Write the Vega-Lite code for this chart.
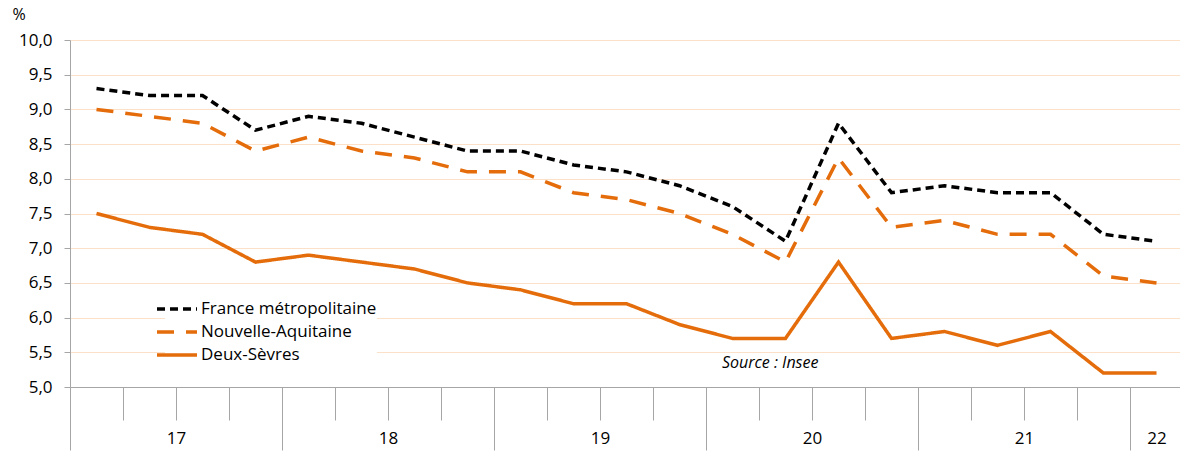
{
  "$schema": "https://vega.github.io/schema/vega-lite/v6.json",
  "autosize": {"type": "none"},
  "padding": {"left": 70, "top": 40, "right": 0, "bottom": 64},
  "width": 1113,
  "height": 347,
  "background": "white",
  "config": {
    "font": "Open Sans",
    "view": {"stroke": null}
  },
  "resolve": {"scale": {"x": "shared", "y": "shared"}, "axis": {"x": "independent", "y": "independent"}},
  "datasets": {
    "taux": [
      {"i": 0, "trimestre": "2017-T1", "serie": "France métropolitaine", "taux": 9.3},
      {"i": 1, "trimestre": "2017-T2", "serie": "France métropolitaine", "taux": 9.2},
      {"i": 2, "trimestre": "2017-T3", "serie": "France métropolitaine", "taux": 9.2},
      {"i": 3, "trimestre": "2017-T4", "serie": "France métropolitaine", "taux": 8.7},
      {"i": 4, "trimestre": "2018-T1", "serie": "France métropolitaine", "taux": 8.9},
      {"i": 5, "trimestre": "2018-T2", "serie": "France métropolitaine", "taux": 8.8},
      {"i": 6, "trimestre": "2018-T3", "serie": "France métropolitaine", "taux": 8.6},
      {"i": 7, "trimestre": "2018-T4", "serie": "France métropolitaine", "taux": 8.4},
      {"i": 8, "trimestre": "2019-T1", "serie": "France métropolitaine", "taux": 8.4},
      {"i": 9, "trimestre": "2019-T2", "serie": "France métropolitaine", "taux": 8.2},
      {"i": 10, "trimestre": "2019-T3", "serie": "France métropolitaine", "taux": 8.1},
      {"i": 11, "trimestre": "2019-T4", "serie": "France métropolitaine", "taux": 7.9},
      {"i": 12, "trimestre": "2020-T1", "serie": "France métropolitaine", "taux": 7.6},
      {"i": 13, "trimestre": "2020-T2", "serie": "France métropolitaine", "taux": 7.1},
      {"i": 14, "trimestre": "2020-T3", "serie": "France métropolitaine", "taux": 8.8},
      {"i": 15, "trimestre": "2020-T4", "serie": "France métropolitaine", "taux": 7.8},
      {"i": 16, "trimestre": "2021-T1", "serie": "France métropolitaine", "taux": 7.9},
      {"i": 17, "trimestre": "2021-T2", "serie": "France métropolitaine", "taux": 7.8},
      {"i": 18, "trimestre": "2021-T3", "serie": "France métropolitaine", "taux": 7.8},
      {"i": 19, "trimestre": "2021-T4", "serie": "France métropolitaine", "taux": 7.2},
      {"i": 20, "trimestre": "2022-T1", "serie": "France métropolitaine", "taux": 7.1},
      {"i": 0, "trimestre": "2017-T1", "serie": "Nouvelle-Aquitaine", "taux": 9.0},
      {"i": 1, "trimestre": "2017-T2", "serie": "Nouvelle-Aquitaine", "taux": 8.9},
      {"i": 2, "trimestre": "2017-T3", "serie": "Nouvelle-Aquitaine", "taux": 8.8},
      {"i": 3, "trimestre": "2017-T4", "serie": "Nouvelle-Aquitaine", "taux": 8.4},
      {"i": 4, "trimestre": "2018-T1", "serie": "Nouvelle-Aquitaine", "taux": 8.6},
      {"i": 5, "trimestre": "2018-T2", "serie": "Nouvelle-Aquitaine", "taux": 8.4},
      {"i": 6, "trimestre": "2018-T3", "serie": "Nouvelle-Aquitaine", "taux": 8.3},
      {"i": 7, "trimestre": "2018-T4", "serie": "Nouvelle-Aquitaine", "taux": 8.1},
      {"i": 8, "trimestre": "2019-T1", "serie": "Nouvelle-Aquitaine", "taux": 8.1},
      {"i": 9, "trimestre": "2019-T2", "serie": "Nouvelle-Aquitaine", "taux": 7.8},
      {"i": 10, "trimestre": "2019-T3", "serie": "Nouvelle-Aquitaine", "taux": 7.7},
      {"i": 11, "trimestre": "2019-T4", "serie": "Nouvelle-Aquitaine", "taux": 7.5},
      {"i": 12, "trimestre": "2020-T1", "serie": "Nouvelle-Aquitaine", "taux": 7.2},
      {"i": 13, "trimestre": "2020-T2", "serie": "Nouvelle-Aquitaine", "taux": 6.8},
      {"i": 14, "trimestre": "2020-T3", "serie": "Nouvelle-Aquitaine", "taux": 8.3},
      {"i": 15, "trimestre": "2020-T4", "serie": "Nouvelle-Aquitaine", "taux": 7.3},
      {"i": 16, "trimestre": "2021-T1", "serie": "Nouvelle-Aquitaine", "taux": 7.4},
      {"i": 17, "trimestre": "2021-T2", "serie": "Nouvelle-Aquitaine", "taux": 7.2},
      {"i": 18, "trimestre": "2021-T3", "serie": "Nouvelle-Aquitaine", "taux": 7.2},
      {"i": 19, "trimestre": "2021-T4", "serie": "Nouvelle-Aquitaine", "taux": 6.6},
      {"i": 20, "trimestre": "2022-T1", "serie": "Nouvelle-Aquitaine", "taux": 6.5},
      {"i": 0, "trimestre": "2017-T1", "serie": "Deux-Sèvres", "taux": 7.5},
      {"i": 1, "trimestre": "2017-T2", "serie": "Deux-Sèvres", "taux": 7.3},
      {"i": 2, "trimestre": "2017-T3", "serie": "Deux-Sèvres", "taux": 7.2},
      {"i": 3, "trimestre": "2017-T4", "serie": "Deux-Sèvres", "taux": 6.8},
      {"i": 4, "trimestre": "2018-T1", "serie": "Deux-Sèvres", "taux": 6.9},
      {"i": 5, "trimestre": "2018-T2", "serie": "Deux-Sèvres", "taux": 6.8},
      {"i": 6, "trimestre": "2018-T3", "serie": "Deux-Sèvres", "taux": 6.7},
      {"i": 7, "trimestre": "2018-T4", "serie": "Deux-Sèvres", "taux": 6.5},
      {"i": 8, "trimestre": "2019-T1", "serie": "Deux-Sèvres", "taux": 6.4},
      {"i": 9, "trimestre": "2019-T2", "serie": "Deux-Sèvres", "taux": 6.2},
      {"i": 10, "trimestre": "2019-T3", "serie": "Deux-Sèvres", "taux": 6.2},
      {"i": 11, "trimestre": "2019-T4", "serie": "Deux-Sèvres", "taux": 5.9},
      {"i": 12, "trimestre": "2020-T1", "serie": "Deux-Sèvres", "taux": 5.7},
      {"i": 13, "trimestre": "2020-T2", "serie": "Deux-Sèvres", "taux": 5.7},
      {"i": 14, "trimestre": "2020-T3", "serie": "Deux-Sèvres", "taux": 6.8},
      {"i": 15, "trimestre": "2020-T4", "serie": "Deux-Sèvres", "taux": 5.7},
      {"i": 16, "trimestre": "2021-T1", "serie": "Deux-Sèvres", "taux": 5.8},
      {"i": 17, "trimestre": "2021-T2", "serie": "Deux-Sèvres", "taux": 5.6},
      {"i": 18, "trimestre": "2021-T3", "serie": "Deux-Sèvres", "taux": 5.8},
      {"i": 19, "trimestre": "2021-T4", "serie": "Deux-Sèvres", "taux": 5.2},
      {"i": 20, "trimestre": "2022-T1", "serie": "Deux-Sèvres", "taux": 5.2}
    ],
    "source": [
      {"i": 11.8, "taux": 5.35, "texte": "Source : Insee"}
    ]
  },
  "layer": [
    {
      "data": {"name": "taux"},
      "mark": {"type": "line", "strokeWidth": 3.5, "strokeCap": "butt", "clip": false},
      "encoding": {
        "x": {
          "field": "i",
          "type": "quantitative",
          "scale": {"domain": [-0.5, 20.5], "nice": false, "zero": false},
          "axis": {
            "title": null,
            "orient": "bottom",
            "values": [-0.5, 0.5, 1.5, 2.5, 3.5, 4.5, 5.5, 6.5, 7.5, 8.5, 9.5, 10.5, 11.5, 12.5, 13.5, 14.5, 15.5, 16.5, 17.5, 18.5, 19.5, 20.5],
            "grid": false,
            "domainColor": "#A6A6A6",
            "domainWidth": 1,
            "tickColor": "#A6A6A6",
            "tickWidth": 1,
            "tickSize": {"condition": {"test": "indexof([-0.5, 3.5, 7.5, 11.5, 15.5, 19.5, 20.5], datum.value) >= 0", "value": 63}, "value": 33},
            "labelExpr": "datum.value == 1.5 ? '17' : datum.value == 5.5 ? '18' : datum.value == 9.5 ? '19' : datum.value == 13.5 ? '20' : datum.value == 17.5 ? '21' : datum.value == 20.5 ? '22' : ''",
            "labelOffset": {"condition": {"test": "datum.value == 20.5", "value": -26.5}, "value": 0},
            "labelPadding": {"condition": {"test": "datum.value == 20.5", "value": -20}, "value": 10},
            "labelFontSize": 17,
            "labelColor": "#000000",
            "labelBaseline": "top",
            "labelFlush": false,
            "labelOverlap": false
          }
        },
        "y": {
          "field": "taux",
          "type": "quantitative",
          "scale": {"domain": [5, 10], "nice": false, "zero": false},
          "axis": {
            "title": "%",
            "orient": "left",
            "titleAngle": 0,
            "titleAlign": "left",
            "titleBaseline": "middle",
            "titleX": -58,
            "titleY": -26,
            "titleFontSize": 16,
            "titleFontWeight": "normal",
            "titleColor": "#000000",
            "values": [5, 5.5, 6, 6.5, 7, 7.5, 8, 8.5, 9, 9.5, 10],
            "labelExpr": "replace(format(datum.value, '.1f'), '.', ',')",
            "labelFontSize": 17,
            "labelColor": "#000000",
            "labelPadding": 12,
            "labelOverlap": false,
            "tickSize": 6,
            "tickColor": "#A6A6A6",
            "domainColor": "#A6A6A6",
            "gridColor": "#FCE0C8",
            "gridWidth": 1,
            "grid": true
          }
        },
        "color": {
          "field": "serie",
          "type": "nominal",
          "scale": {
            "domain": ["France métropolitaine", "Nouvelle-Aquitaine", "Deux-Sèvres"],
            "range": ["#000000", "#E46C0A", "#E46C0A"]
          },
          "legend": {
            "title": null,
            "orient": "none",
            "legendX": 95,
            "legendY": 257,
            "fillColor": "white",
            "padding": 0,
            "symbolType": "M-2,0H2",
            "symbolSize": 400,
            "symbolStrokeWidth": 3.5,
            "symbolFillColor": "transparent",
            "labelFontSize": 17,
            "labelColor": "#000000",
            "labelOffset": 12,
            "rowPadding": 3,
            "labelLimit": 400
          }
        },
        "strokeDash": {
          "field": "serie",
          "type": "nominal",
          "scale": {
            "domain": ["France métropolitaine", "Nouvelle-Aquitaine", "Deux-Sèvres"],
            "range": [[8, 5], [17, 12], [1, 0]]
          },
          "legend": null
        }
      }
    },
    {
      "data": {"name": "source"},
      "mark": {"type": "text", "align": "left", "baseline": "middle", "fontStyle": "italic", "fontSize": 16, "color": "#000000"},
      "encoding": {
        "x": {"field": "i", "type": "quantitative", "axis": null},
        "y": {"field": "taux", "type": "quantitative", "axis": null},
        "text": {"field": "texte"}
      }
    }
  ]
}
